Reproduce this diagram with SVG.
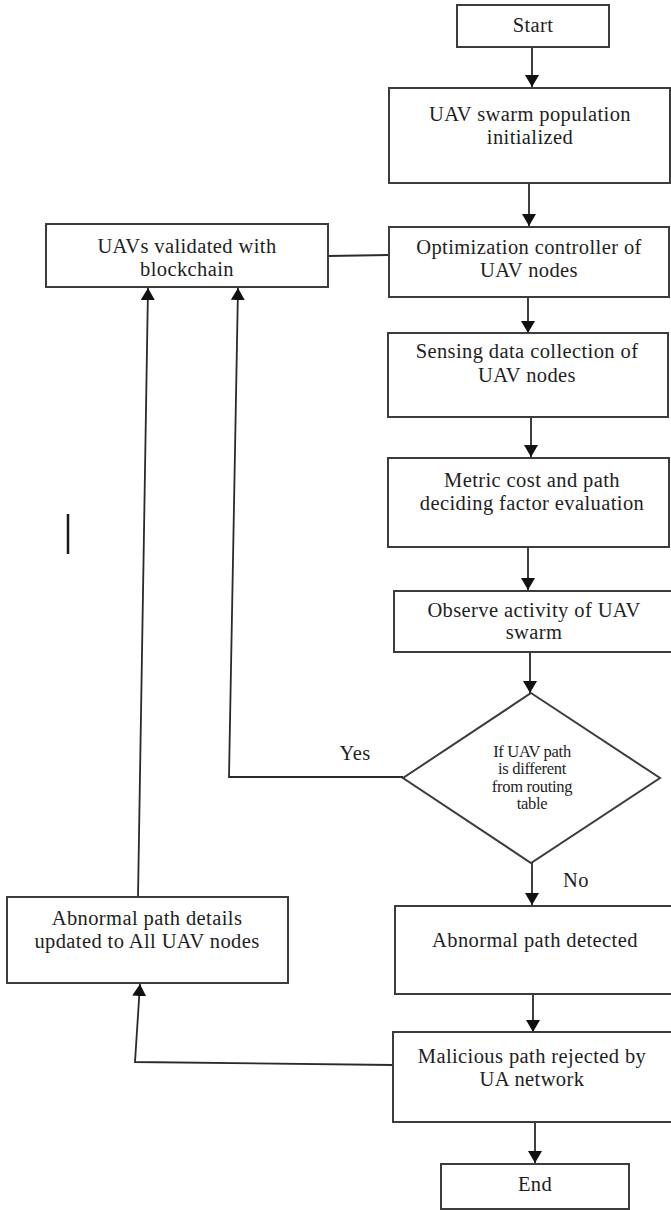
<svg xmlns="http://www.w3.org/2000/svg" width="671" height="1210" viewBox="0 0 671 1210">
  <style>
    .box { fill: #ffffff; stroke: #3c3c3c; stroke-width: 2; }
    .lbl { font-family: 'Liberation Serif', 'Times New Roman', Times, serif; font-size: 20.5px; letter-spacing: 0.4px; fill: #1e1e1e; text-anchor: middle; }
    .small { font-size: 16.5px; letter-spacing: -0.3px; }
    .edge { fill: none; stroke: #2a2a2a; stroke-width: 1.8; }
  </style>
  <defs>
    <marker id="arrow" markerUnits="userSpaceOnUse" markerWidth="14" markerHeight="14" refX="12" refY="7" orient="auto">
      <path d="M0,0 L12,7 L0,14 z" fill="#111111"/>
    </marker>
  </defs>

  <rect width="671" height="1210" fill="#ffffff"/>

  <!-- connectors -->
  <g id="connectors">
    <line class="edge" x1="532" y1="47" x2="532" y2="87" marker-end="url(#arrow)"/>
    <line class="edge" x1="529" y1="183" x2="529" y2="226" marker-end="url(#arrow)"/>
    <line class="edge" x1="328" y1="256" x2="389" y2="255"/>
    <line class="edge" x1="528" y1="297" x2="528" y2="333" marker-end="url(#arrow)"/>
    <line class="edge" x1="531" y1="417" x2="531" y2="457" marker-end="url(#arrow)"/>
    <line class="edge" x1="528" y1="547" x2="528" y2="590" marker-end="url(#arrow)"/>
    <line class="edge" x1="530" y1="652" x2="530" y2="693" marker-end="url(#arrow)"/>
    <!-- Yes branch back to validation -->
    <polyline class="edge" points="403,777 229,777 238,288" marker-end="url(#arrow)"/>
    <!-- No branch -->
    <line class="edge" x1="532" y1="863" x2="532" y2="905" marker-end="url(#arrow)"/>
    <line class="edge" x1="533" y1="994" x2="533" y2="1032" marker-end="url(#arrow)"/>
    <line class="edge" x1="535" y1="1122" x2="535" y2="1163" marker-end="url(#arrow)"/>
    <!-- rejection broadcast -->
    <polyline class="edge" points="393,1065 135,1062 140,984" marker-end="url(#arrow)"/>
    <!-- update loop back to validation -->
    <line class="edge" x1="138" y1="897" x2="148" y2="288" marker-end="url(#arrow)"/>
    <text class="lbl" x="355" y="760">Yes</text>
    <text class="lbl" x="576" y="887">No</text>
  </g>

  <g id="start">
    <rect class="box" x="457" y="5" width="152" height="42"/>
    <text class="lbl" x="533" y="32">Start</text>
  </g>

  <g id="init">
    <rect class="box" x="389" y="88" width="281" height="95"/>
    <text class="lbl" x="530" y="121">UAV swarm population</text>
    <text class="lbl" x="530" y="144">initialized</text>
  </g>

  <g id="validate">
    <rect class="box" x="46" y="224" width="282" height="63"/>
    <text class="lbl" x="187" y="253">UAVs validated with</text>
    <text class="lbl" x="187" y="276">blockchain</text>
  </g>

  <g id="optimize">
    <rect class="box" x="389" y="227" width="280" height="70"/>
    <text class="lbl" x="529" y="254">Optimization controller of</text>
    <text class="lbl" x="529" y="277">UAV nodes</text>
  </g>

  <g id="sensing">
    <rect class="box" x="388" y="333" width="280" height="84"/>
    <text class="lbl" x="527" y="358">Sensing data collection of</text>
    <text class="lbl" x="527" y="382">UAV nodes</text>
  </g>

  <g id="metric">
    <rect class="box" x="388" y="458" width="281" height="89"/>
    <text class="lbl" x="532" y="487">Metric cost and path</text>
    <text class="lbl" x="532" y="510">deciding factor evaluation</text>
  </g>

  <g id="observe">
    <rect class="box" x="394" y="591" width="280" height="61"/>
    <text class="lbl" x="534" y="617">Observe activity of UAV</text>
    <text class="lbl" x="534" y="639">swarm</text>
  </g>

  <g id="decision">
    <polygon class="box" points="531,693 660,778 531,863 403,778"/>
    <text class="lbl small" x="532" y="757">If UAV path</text>
    <text class="lbl small" x="532" y="774">is different</text>
    <text class="lbl small" x="532" y="792">from routing</text>
    <text class="lbl small" x="532" y="809">table</text>
  </g>

  <g id="details">
    <rect class="box" x="7" y="897" width="281" height="86"/>
    <text class="lbl" x="147" y="925">Abnormal path details</text>
    <text class="lbl" x="147" y="948">updated to All UAV nodes</text>
  </g>

  <g id="detected">
    <rect class="box" x="395" y="906" width="280" height="88"/>
    <text class="lbl" x="535" y="947">Abnormal path detected</text>
  </g>

  <g id="rejected">
    <rect class="box" x="393" y="1032" width="282" height="90"/>
    <text class="lbl" x="532" y="1063">Malicious path rejected by</text>
    <text class="lbl" x="532" y="1086">UA network</text>
  </g>

  <g id="end">
    <rect class="box" x="441" y="1164" width="188" height="45"/>
    <text class="lbl" x="535" y="1191">End</text>
  </g>

  <!-- short vertical stroke at the left margin -->
  <line x1="68" y1="514" x2="68" y2="554" stroke="#1a1a1a" stroke-width="2.5"/>
</svg>
